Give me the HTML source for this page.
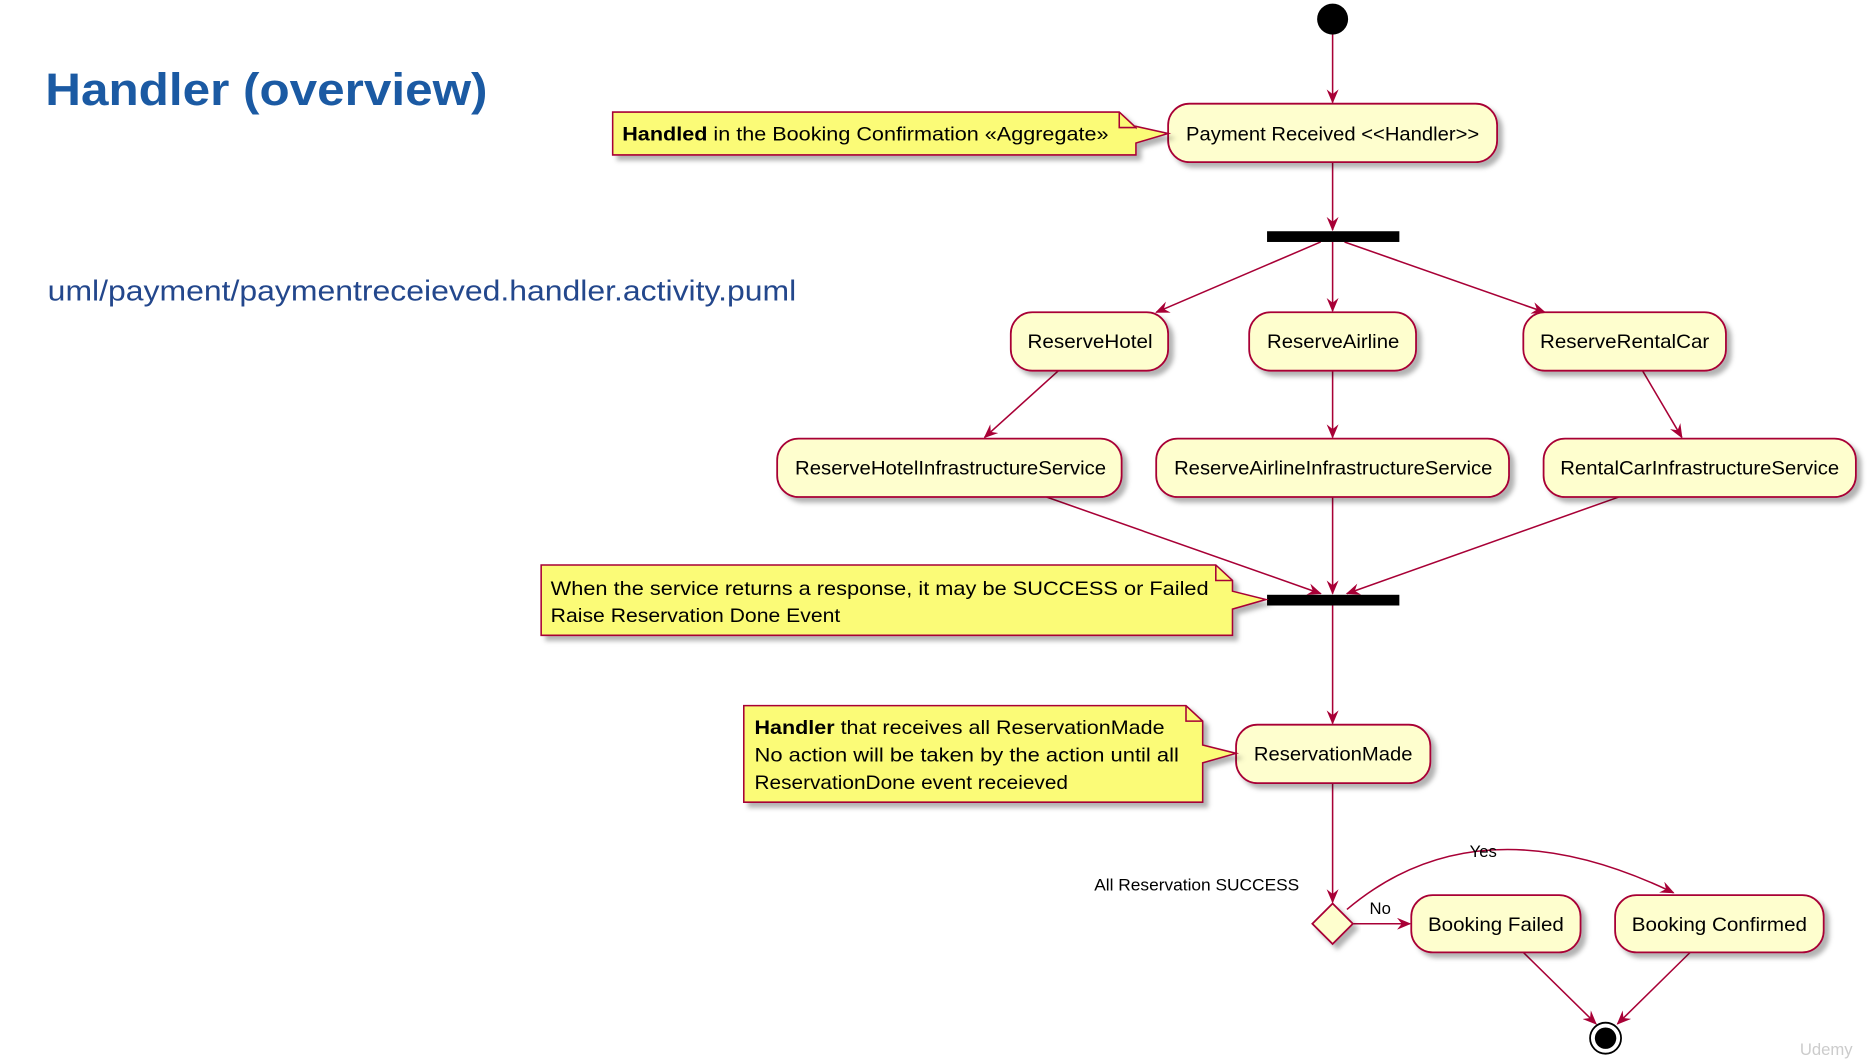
<!DOCTYPE html>
<html><head><meta charset="utf-8"><style>
html,body{margin:0;padding:0;background:#fff;}
svg{display:block;}
text{font-family:"Liberation Sans",sans-serif;}
</style></head><body>
<svg width="1869" height="1060" viewBox="0 0 1568 889.3" xmlns="http://www.w3.org/2000/svg">
<defs>
<filter id="sh" x="-10%" y="-20%" width="130%" height="160%"><feDropShadow dx="4" dy="4" stdDeviation="2" flood-color="#000" flood-opacity="0.3"/></filter>
<marker id="ar" viewBox="0 0 12 10" refX="11" refY="5" markerWidth="12" markerHeight="10" markerUnits="userSpaceOnUse" orient="auto"><path d="M0,0 L12,5 L0,10 L4,5 Z" fill="#A80036"/></marker>
</defs>
<text x="38" y="88" font-size="38" font-weight="bold" fill="#1B5AA3" textLength="371" lengthAdjust="spacingAndGlyphs">Handler (overview)</text>
<text x="40" y="252" font-size="24" fill="#23478C" textLength="628" lengthAdjust="spacingAndGlyphs">uml/payment/paymentreceieved.handler.activity.puml</text>

<g stroke="#A80036" stroke-width="1.3" fill="none">
<line x1="1118" y1="29" x2="1118" y2="86" marker-end="url(#ar)"/>
<line x1="1118" y1="136" x2="1118" y2="193" marker-end="url(#ar)"/>
<line x1="1108" y1="203" x2="970" y2="262" marker-end="url(#ar)"/>
<line x1="1118" y1="203" x2="1118" y2="261" marker-end="url(#ar)"/>
<line x1="1128" y1="203" x2="1296" y2="262" marker-end="url(#ar)"/>
<line x1="888" y1="311" x2="826" y2="367" marker-end="url(#ar)"/>
<line x1="1118" y1="311" x2="1118" y2="367" marker-end="url(#ar)"/>
<line x1="1378" y1="311" x2="1411" y2="367" marker-end="url(#ar)"/>
<line x1="878" y1="417" x2="1108" y2="498" marker-end="url(#ar)"/>
<line x1="1118" y1="417" x2="1118" y2="498" marker-end="url(#ar)"/>
<line x1="1358" y1="417" x2="1130" y2="498" marker-end="url(#ar)"/>
<line x1="1118" y1="508" x2="1118" y2="607" marker-end="url(#ar)"/>
<line x1="1118" y1="657" x2="1118" y2="757" marker-end="url(#ar)"/>
<line x1="1135" y1="775" x2="1183" y2="775" marker-end="url(#ar)"/>
<path d="M1130,763 Q1240,670 1404,749" marker-end="url(#ar)"/>
<line x1="1278" y1="799" x2="1339" y2="859" marker-end="url(#ar)"/>
<line x1="1418" y1="799" x2="1357" y2="859" marker-end="url(#ar)"/>
</g>

<circle cx="1118" cy="16" r="13" fill="#000"/>
<circle cx="1347" cy="871" r="13" fill="none" stroke="#000" stroke-width="1.5"/>
<circle cx="1347" cy="871" r="9" fill="#000"/>
<rect x="1063" y="194" width="111" height="9" fill="#000"/>
<rect x="1063" y="499" width="111" height="9" fill="#000"/>
<polygon points="1118,758 1135,775 1118,792 1101,775" fill="#FEFECE" stroke="#A80036" stroke-width="1.5" filter="url(#sh)"/>

<g fill="#FEFECE" stroke="#A80036" stroke-width="1.5" filter="url(#sh)">
<rect x="980" y="87" width="276" height="49" rx="18"/>
<rect x="848" y="262" width="132" height="49" rx="18"/>
<rect x="1048" y="262" width="140" height="49" rx="18"/>
<rect x="1278" y="262" width="170" height="49" rx="18"/>
<rect x="652" y="368" width="289" height="49" rx="18"/>
<rect x="970" y="368" width="296" height="49" rx="18"/>
<rect x="1295" y="368" width="262" height="49" rx="18"/>
<rect x="1037" y="608" width="163" height="49" rx="18"/>
<rect x="1184" y="751" width="142" height="48" rx="18"/>
<rect x="1355" y="751" width="175" height="48" rx="18"/>
</g>
<g fill="#FBFB77" stroke="#A80036" stroke-width="1.3" filter="url(#sh)">
<path d="M514,94 H939 L953,107 V106 L980,112 L953,120 V130 H514 Z"/>
<path d="M454,474 H1020 L1034,487 V496 L1062,503 L1034,511 V533 H454 Z"/>
<path d="M624,592 H995 L1009,605 V625 L1037,632 L1009,640 V673 H624 Z"/>
</g>
<g fill="none" stroke="#A80036" stroke-width="1.3">
<path d="M939,94 V107 H953"/><path d="M1020,474 V487 H1034"/><path d="M995,592 V605 H1009"/>
</g>

<g font-size="16.5" fill="#000" text-anchor="middle" lengthAdjust="spacingAndGlyphs">
<text x="1118" y="118" textLength="246" lengthAdjust="spacingAndGlyphs">Payment Received &lt;&lt;Handler&gt;&gt;</text>
<text x="914.5" y="292" textLength="105" lengthAdjust="spacingAndGlyphs">ReserveHotel</text>
<text x="1118.5" y="292" textLength="111" lengthAdjust="spacingAndGlyphs">ReserveAirline</text>
<text x="1363" y="292" textLength="142" lengthAdjust="spacingAndGlyphs">ReserveRentalCar</text>
<text x="797.5" y="398" textLength="261" lengthAdjust="spacingAndGlyphs">ReserveHotelInfrastructureService</text>
<text x="1118.5" y="398" textLength="267" lengthAdjust="spacingAndGlyphs">ReserveAirlineInfrastructureService</text>
<text x="1426" y="398" textLength="234" lengthAdjust="spacingAndGlyphs">RentalCarInfrastructureService</text>
<text x="1118.5" y="638" textLength="133" lengthAdjust="spacingAndGlyphs">ReservationMade</text>
<text x="1255" y="781" textLength="114" lengthAdjust="spacingAndGlyphs">Booking Failed</text>
<text x="1442.5" y="781" textLength="147" lengthAdjust="spacingAndGlyphs">Booking Confirmed</text>
</g>
<g font-size="16.5" fill="#000">
<text x="522" y="118" textLength="408" lengthAdjust="spacingAndGlyphs"><tspan font-weight="bold">Handled</tspan> in the Booking Confirmation «Aggregate»</text>
<text x="462" y="499" textLength="552" lengthAdjust="spacingAndGlyphs">When the service returns a response, it may be SUCCESS or Failed</text>
<text x="462" y="522" textLength="243" lengthAdjust="spacingAndGlyphs">Raise Reservation Done Event</text>
<text x="633" y="616" textLength="344" lengthAdjust="spacingAndGlyphs"><tspan font-weight="bold">Handler</tspan> that receives all ReservationMade</text>
<text x="633" y="639" textLength="356" lengthAdjust="spacingAndGlyphs">No action will be taken by the action until all</text>
<text x="633" y="662" textLength="263" lengthAdjust="spacingAndGlyphs">ReservationDone event receieved</text>
</g>
<g font-size="14" fill="#000">
<text x="918" y="747" textLength="172" lengthAdjust="spacingAndGlyphs">All Reservation SUCCESS</text>
<text x="1149" y="767">No</text>
<text x="1233" y="719">Yes</text>
</g>
<text x="1510" y="885" font-size="14" fill="#ccc">Udemy</text>
</svg>
</body></html>
